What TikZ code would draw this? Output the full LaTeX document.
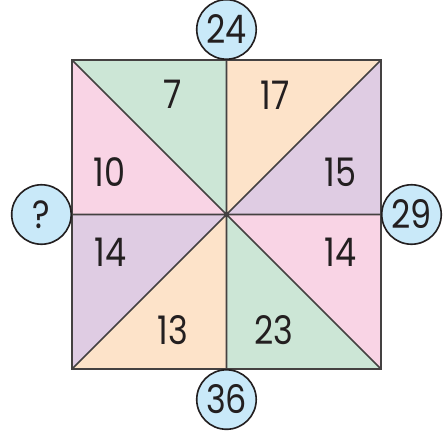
\documentclass[tikz,border=0pt]{standalone}
\usepackage{fontspec}
\setmainfont{Poppins}[FakeStretch=0.85]
\usetikzlibrary{positioning}
\definecolor{cellgreen}{HTML}{CCE6D6}
\definecolor{cellorange}{HTML}{FDE3C9}
\definecolor{cellpurple}{HTML}{DFCCE3}
\definecolor{cellpink}{HTML}{F9D4E5}
\definecolor{bubbleblue}{HTML}{C9E9F9}
\definecolor{inkgray}{HTML}{231F20}
\tikzset{
  cell edge/.style={draw=inkgray!85,line width=0.6pt},
  bubble/.style={circle,draw=inkgray,fill=bubbleblue,line width=0.6pt,
    minimum size=7.7mm,inner sep=0pt,text=inkgray,
    font=\fontsize{14.5}{16}\selectfont},
  number/.style={text=inkgray,inner sep=0pt,
    font=\fontsize{14.5}{16}\selectfont}
}
\begin{document}
\begin{tikzpicture}
  \useasboundingbox (-2.932,-2.841) rectangle (2.803,2.777);
  \coordinate (c) at (0,0);
  \coordinate (tl) at (-2,2);
  \coordinate (tr) at (2,2);
  \coordinate (br) at (2,-2);
  \coordinate (bl) at (-2,-2);
  \coordinate (t) at (0,2);
  \coordinate (r) at (2,0);
  \coordinate (b) at (0,-2);
  \coordinate (l) at (-2,0);
  % eight triangles
  \fill[cellpink] (tl)--(c)--(l)--cycle;
  \fill[cellgreen] (tl)--(t)--(c)--cycle;
  \fill[cellorange] (t)--(tr)--(c)--cycle;
  \fill[cellpurple] (tr)--(r)--(c)--cycle;
  \fill[cellpink] (r)--(br)--(c)--cycle;
  \fill[cellgreen] (br)--(b)--(c)--cycle;
  \fill[cellorange] (b)--(bl)--(c)--cycle;
  \fill[cellpurple] (bl)--(l)--(c)--cycle;
  \draw[cell edge] (tl) rectangle (br);
  \draw[cell edge] (tl)--(br) (tr)--(bl) (t)--(b) (l)--(r);
  % numbers in the cells
  \node[number] (n7) at (-0.70,1.55) {7};
  \node[number] (n17) at (0.63,1.55) {17};
  \node[number] (n15) at (1.48,0.55) {15};
  \node[number] (n14r) at (1.48,-0.49) {14};
  \node[number] (n23) at (0.61,-1.50) {23};
  \node[number] (n13) at (-0.69,-1.50) {13};
  \node[number] (n14l) at (-1.50,-0.49) {14};
  \node[number] (n10) at (-1.51,0.55) {10};
  % sums
  \node[bubble,above=0pt of t] (sumtop) {24};
  \node[bubble,right=0pt of r] (sumright) {29};
  \node[bubble,below=0pt of b] (sumbottom) {36};
  \node[bubble,left=0pt of l] (sumleft) {?};
\end{tikzpicture}
\end{document}
